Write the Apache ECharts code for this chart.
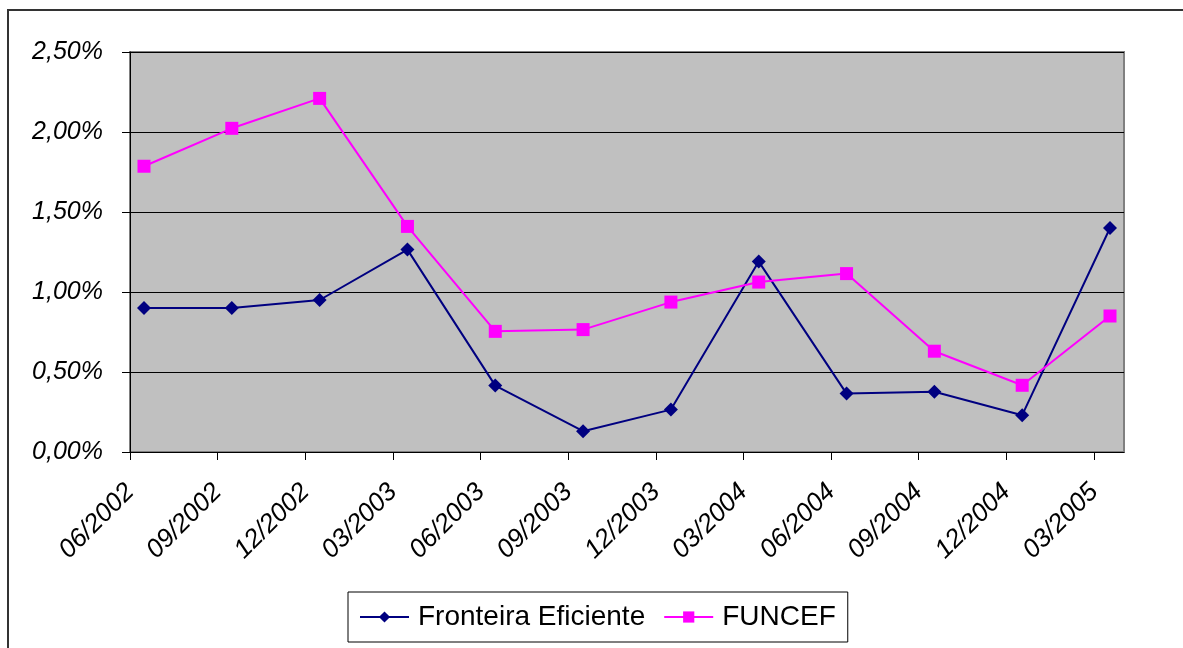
<!DOCTYPE html>
<html>
<head>
<meta charset="utf-8">
<script src="https://cdn.jsdelivr.net/npm/echarts@6/dist/echarts.min.js"></script>
<style>
  html, body { margin: 0; padding: 0; background: #fff; }
  #chart { width: 1183px; height: 648px; }
</style>
</head>
<body>
<div id="chart"></div>
<script>
// quarters on the x axis
const categories = ['06/2002', '09/2002', '12/2002', '03/2003', '06/2003', '09/2003',
  '12/2003', '03/2004', '06/2004', '09/2004', '12/2004', '03/2005'];

// returns in %
const fronteiraEficiente = [0.90, 0.90, 0.95, 1.265, 0.415, 0.13, 0.265, 1.19, 0.365, 0.377, 0.23, 1.40];
const funcef = [1.786, 2.023, 2.21, 1.41, 0.754, 0.765, 0.937, 1.062, 1.115, 0.63, 0.417, 0.85];

const yTicks = [0, 0.5, 1, 1.5, 2, 2.5];

const chart = echarts.init(document.getElementById('chart'));

const labelFont = {
  color: '#000',
  fontFamily: 'Liberation Sans, Arial, sans-serif',
  fontStyle: 'italic'
};

chart.setOption({
  animation: false,
  backgroundColor: '#fff',
  graphic: [
    {
      type: 'rect',
      shape: { x: 8, y: 10, width: 1200, height: 700 },
      style: { fill: 'none', stroke: '#333', lineWidth: 2 },
      silent: true
    }
  ],
  grid: [
    // gray plot area, y axis and gridlines
    { left: 130, top: 52, width: 994, height: 400, show: true,
      backgroundColor: '#C0C0C0', borderColor: '#808080', borderWidth: 2 },
    // where the points sit
    { left: 144, top: 52, width: 966, height: 400 },
    // tick marks and category labels
    { left: 130, top: 52, width: 964, height: 400 }
  ],
  xAxis: [
    {
      gridIndex: 0,
      type: 'category',
      data: categories,
      axisLine: { show: true, lineStyle: { color: '#000', width: 1 } },
      axisTick: { show: false },
      axisLabel: { show: false },
      splitLine: { show: false }
    },
    {
      gridIndex: 1,
      type: 'category',
      data: categories,
      boundaryGap: false,
      show: false
    },
    {
      gridIndex: 2,
      type: 'category',
      data: categories,
      boundaryGap: false,
      axisLine: { show: false },
      axisTick: { show: true, length: 8, inside: false, lineStyle: { color: '#000' } },
      axisLabel: { ...labelFont, fontSize: 26, interval: 0, rotate: 45, margin: 36 },
      splitLine: { show: false }
    }
  ],
  yAxis: [
    {
      gridIndex: 0,
      type: 'value',
      min: yTicks[0],
      max: yTicks[yTicks.length - 1],
      interval: 0.5,
      axisLine: { show: true, lineStyle: { color: '#000', width: 1 } },
      axisTick: { show: true, length: 8, lineStyle: { color: '#000' } },
      axisLabel: {
        ...labelFont,
        fontSize: 25,
        margin: 27,
        formatter: v => v.toFixed(2).replace('.', ',') + '%'
      },
      splitLine: { show: true, lineStyle: { color: '#000', width: 1 } }
    },
    { gridIndex: 1, type: 'value', min: 0, max: 2.5, show: false },
    { gridIndex: 2, type: 'value', min: 0, max: 2.5, show: false }
  ],
  legend: {
    left: 348,
    top: 592,
    orient: 'horizontal',
    backgroundColor: '#fff',
    borderColor: '#000',
    borderWidth: 1,
    padding: [11, 12, 11, 11],
    itemWidth: 49,
    itemHeight: 14,
    itemGap: 18,
    textStyle: {
      color: '#000',
      fontFamily: 'Liberation Sans, Arial, sans-serif',
      fontSize: 28,
      padding: [0, 0, 0, 4]
    },
    data: ['Fronteira Eficiente', 'FUNCEF']
  },
  series: [
    {
      name: 'Fronteira Eficiente',
      type: 'line',
      xAxisIndex: 1,
      yAxisIndex: 1,
      data: fronteiraEficiente,
      symbol: 'diamond',
      symbolSize: 14,
      lineStyle: { color: '#000080', width: 2 },
      itemStyle: { color: '#000080' }
    },
    {
      name: 'FUNCEF',
      type: 'line',
      xAxisIndex: 1,
      yAxisIndex: 1,
      data: funcef,
      symbol: 'rect',
      symbolSize: 13,
      lineStyle: { color: '#FF00FF', width: 2 },
      itemStyle: { color: '#FF00FF' }
    }
  ]
});
</script>
</body>
</html>
